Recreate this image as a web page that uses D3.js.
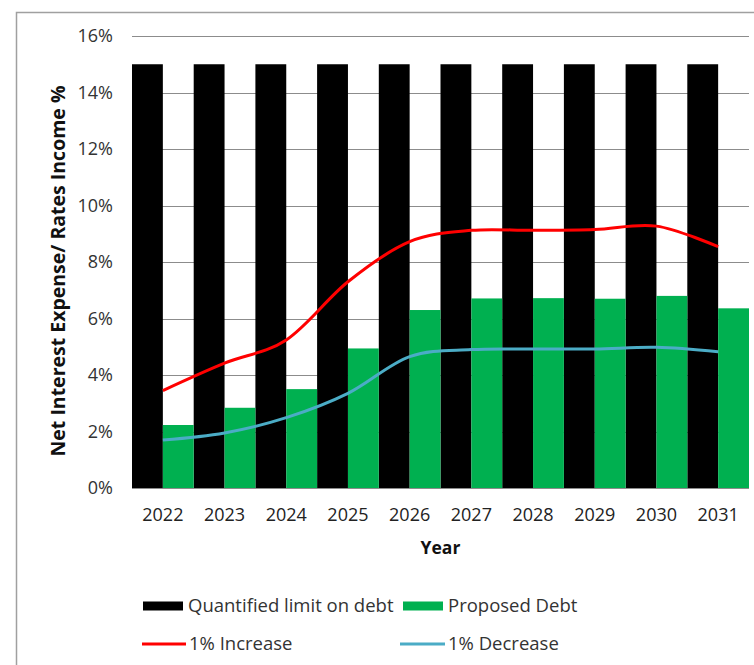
<!DOCTYPE html>
<html>
<head>
<meta charset="utf-8">
<script src="https://cdn.jsdelivr.net/npm/d3@7"></script>
<style>
  html, body { margin: 0; padding: 0; background: #fff; }
  svg { display: block; }
</style>
</head>
<body>
<svg id="chart" width="754" height="665"></svg>
<script>
// Financial years on the horizontal axis
const years = ["2022", "2023", "2024", "2025", "2026", "2027", "2028", "2029", "2030", "2031"];
// Net interest expense / rates income, in percent
const quantifiedLimit = [15, 15, 15, 15, 15, 15, 15, 15, 15, 15];
const proposedDebt = [2.23, 2.84, 3.5, 4.94, 6.3, 6.71, 6.72, 6.7, 6.8, 6.36];
const increase1 = [3.45, 4.42, 5.24, 7.3, 8.72, 9.12, 9.12, 9.15, 9.27, 8.54];
const decrease1 = [1.7, 1.95, 2.49, 3.35, 4.65, 4.9, 4.92, 4.92, 4.98, 4.82];
const yTicks = [0, 2, 4, 6, 8, 10, 12, 14, 16];

(function () {
  const svg = d3.select("#chart");
  const font = "'Open Sans', 'Liberation Sans', sans-serif";

  // Outer frame
  svg.append("path")
    .attr("d", "M16.5,665 V12.5 H754")
    .attr("fill", "none")
    .attr("stroke", "#a0a0a0")
    .attr("stroke-width", 1.5);

  const plotLeft = 132, plotRight = 749, plotTop = 36, plotBottom = 488;

  const x = d3.scaleBand().domain(years).range([plotLeft, plotRight]).paddingInner(0).paddingOuter(0);
  const sub = d3.scaleBand().domain(["limit", "proposed"]).range([0, x.bandwidth()]);
  const y = d3.scaleLinear().domain([0, 16]).range([plotBottom, plotTop]);

  // Horizontal gridlines
  svg.append("g")
    .selectAll("line")
    .data(yTicks)
    .join("line")
    .attr("x1", plotLeft)
    .attr("x2", plotRight)
    .attr("y1", d => Math.round(y(d)) + 0.5)
    .attr("y2", d => Math.round(y(d)) + 0.5)
    .attr("stroke", "#8c8c8c")
    .attr("stroke-width", 1);

  // Y tick labels
  svg.append("g")
    .selectAll("text")
    .data(yTicks)
    .join("text")
    .attr("x", 113)
    .attr("y", d => y(d))
    .attr("dy", "0.35em")
    .attr("text-anchor", "end")
    .attr("font-family", font)
    .attr("font-size", 18)
    .attr("fill", "#333")
    .text(d => d + "%");

  // Bars
  const bars = svg.append("g");
  bars.selectAll("rect.limit")
    .data(years)
    .join("rect")
    .attr("class", "limit")
    .attr("x", d => x(d) + sub("limit"))
    .attr("width", sub.bandwidth())
    .attr("y", (d, i) => y(quantifiedLimit[i]))
    .attr("height", (d, i) => y(0) - y(quantifiedLimit[i]))
    .attr("fill", "#000");

  bars.selectAll("rect.proposed")
    .data(years)
    .join("rect")
    .attr("class", "proposed")
    .attr("x", d => x(d) + sub("proposed"))
    .attr("width", sub.bandwidth())
    .attr("y", (d, i) => y(proposedDebt[i]))
    .attr("height", (d, i) => y(0) - y(proposedDebt[i]))
    .attr("fill", "#00b050");

  // Sensitivity lines (smoothed)
  const line = d3.line()
    .x((d, i) => x(years[i]) + x.bandwidth() / 2)
    .y(d => y(d))
    .curve(d3.curveCardinal.tension(0));

  svg.append("path")
    .datum(increase1)
    .attr("d", line)
    .attr("fill", "none")
    .attr("stroke", "#ff0000")
    .attr("stroke-width", 3);

  svg.append("path")
    .datum(decrease1)
    .attr("d", line)
    .attr("fill", "none")
    .attr("stroke", "#4bacc6")
    .attr("stroke-width", 3);

  // X tick labels
  svg.append("g")
    .selectAll("text")
    .data(years)
    .join("text")
    .attr("x", d => x(d) + x.bandwidth() / 2)
    .attr("y", 515)
    .attr("dy", "0.35em")
    .attr("text-anchor", "middle")
    .attr("font-family", font)
    .attr("font-size", 18)
    .attr("fill", "#222")
    .text(d => d);

  // Axis titles
  svg.append("text")
    .attr("x", (plotLeft + plotRight) / 2)
    .attr("y", 548)
    .attr("dy", "0.35em")
    .attr("text-anchor", "middle")
    .attr("font-family", font)
    .attr("font-size", 17.5)
    .attr("font-weight", "bold")
    .attr("fill", "#111")
    .text("Year");

  svg.append("text")
    .attr("transform", "translate(58,271) rotate(-90)")
    .attr("dy", "0.35em")
    .attr("text-anchor", "middle")
    .attr("font-family", font)
    .attr("font-size", 19.5)
    .attr("font-weight", "bold")
    .attr("fill", "#111")
    .text("Net Interest Expense/ Rates Income %");

  // Legend
  const legendItems = [
    { label: "Quantified limit on debt", type: "rect", color: "#000", x: 143, y: 606 },
    { label: "Proposed Debt", type: "rect", color: "#00b050", x: 403, y: 606 },
    { label: "1% Increase", type: "line", color: "#ff0000", x: 142, y: 644 },
    { label: "1% Decrease", type: "line", color: "#4bacc6", x: 400, y: 644 }
  ];
  const lg = svg.append("g")
    .selectAll("g")
    .data(legendItems)
    .join("g")
    .attr("transform", d => `translate(${d.x},${d.y})`);

  lg.filter(d => d.type === "rect")
    .append("rect")
    .attr("x", 0)
    .attr("y", -4.5)
    .attr("width", 40)
    .attr("height", 9)
    .attr("fill", d => d.color);

  lg.filter(d => d.type === "line")
    .append("line")
    .attr("x1", 0)
    .attr("x2", d => d.x < 300 ? 44 : 45)
    .attr("y1", 0)
    .attr("y2", 0)
    .attr("stroke", d => d.color)
    .attr("stroke-width", 3);

  lg.append("text")
    .attr("x", d => d.type === "rect" ? 45 : (d.x < 300 ? 47 : 48))
    .attr("y", 0)
    .attr("dy", "0.35em")
    .attr("font-family", font)
    .attr("font-size", 18.5)
    .attr("fill", "#333")
    .text(d => d.label);
})();
</script>
</body>
</html>
